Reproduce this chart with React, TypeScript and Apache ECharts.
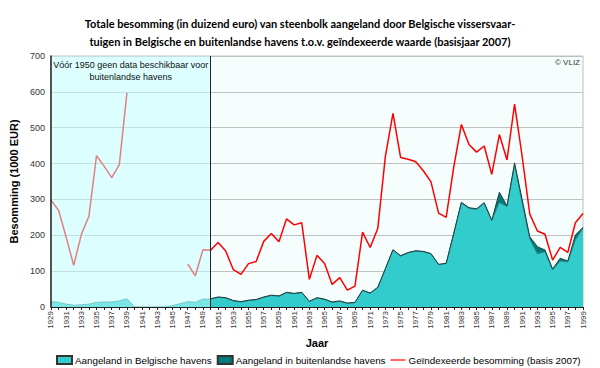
import React, { useEffect, useRef } from "react";
import * as echarts from "echarts";

const years = [
  "1929","1930","1931","1932","1933","1934","1935","1936","1937","1938",
  "1939","1940","1941","1942","1943","1944","1945","1946","1947","1948",
  "1949","1950","1951","1952","1953","1954","1955","1956","1957","1958",
  "1959","1960","1961","1962","1963","1964","1965","1966","1967","1968",
  "1969","1970","1971","1972","1973","1974","1975","1976","1977","1978",
  "1979","1980","1981","1982","1983","1984","1985","1986","1987","1988",
  "1989","1990","1991","1992","1993","1994","1995","1996","1997","1998",
  "1999",
];

const belgianHarbours = [
  15, 13, 8, 5, 6, 8, 13, 14, 14, 17,
  23, 0, 0, 0, 0, 0, 4, 9, 15, 13,
  22, 22, 27, 25, 17, 14, 18, 20, 27, 32,
  30, 40, 37, 40, 15, 25, 21, 13, 16, 10,
  12, 46, 38, 54, 106, 159, 142, 151, 156, 154,
  148, 118, 121, 205, 290, 275, 272, 289, 241, 291,
  280, 396, 289, 189, 148, 154, 103, 128, 126, 187,
  219,
];

const foreignHarbours = [
  null, null, null, null, null, null, null, null, null, null,
  null, null, null, null, null, null, null, null, null, null,
  null, 1, 1, 1, 1, 1, 1, 1, 1, 1,
  1, 1, 1, 1, 1, 1, 1, 1, 1, 1,
  1, 1, 1, 1, 1, 1, 1, 1, 1, 1,
  1, 1, 1, 1, 2, 2, 2, 2, 1, 29,
  2, 6, 10, 7, 20, 5, 3, 8, 2, 14,
  3,
];

const indexedValue = [
  298, 270, 195, 116, 202, 253, 422, 393, 361, 397,
  597, null, null, null, null, null, null, null, 120, 87,
  160, 158, 180, 156, 104, 91, 121, 127, 183, 205,
  182, 246, 229, 235, 77, 144, 121, 63, 82, 47,
  58, 209, 166, 219, 420, 540, 417, 412, 405, 380,
  349, 262, 250, 391, 509, 453, 432, 449, 370, 481,
  410, 566, 419, 259, 212, 203, 131, 166, 152, 235,
  261,
];

const yTicks = { min: 0, max: 700, interval: 100 };

const FONT = "Liberation Sans, Arial, sans-serif";

export default function App() {
  const ref = useRef<HTMLDivElement>(null);

  useEffect(() => {
    document.body.style.margin = "0";
    if (!ref.current) return;
    const chart = echarts.init(ref.current, undefined, { renderer: "svg" });
    chart.setOption({
      animation: false,
      backgroundColor: "#ffffff",
      textStyle: { fontFamily: FONT },
      title: {
        text:
          "Totale besomming (in duizend euro) van steenbolk aangeland door Belgische vissersvaar-\ntuigen in Belgische en buitenlandse havens t.o.v. geïndexeerde waarde (basisjaar 2007)",
        left: "center",
        top: 9,
        textStyle: {
          fontFamily: "Lato, Liberation Sans, sans-serif",
          fontSize: 11,
          fontWeight: "bold",
          lineHeight: 18,
          color: "#000",
        },
      },
      graphic: [
        {
          type: "text",
          right: 20,
          top: 58,
          style: { text: "© VLIZ", fontSize: 8, fill: "#333", fontFamily: FONT },
          z: 20,
        },
      ],
      legend: {
        top: 355,
        left: 56,
        width: 544,
        padding: 0,
        itemWidth: 15,
        itemHeight: 8,
        itemGap: 5,
        textStyle: { fontSize: 9.8, color: "#000", fontFamily: FONT, padding: [0, 0, 0, -2] },
        data: [
          { name: "Aangeland in Belgische havens", icon: "rect" },
          { name: "Aangeland in buitenlandse havens", icon: "rect" },
          {
            name: "Geïndexeerde besomming (basis 2007)",
            icon: "path://M0,0 L20,0 L20,1.6 L0,1.6 Z",
            itemStyle: { color: "#ff0000", borderWidth: 0 },
          },
        ],
      },
      grid: {
        left: 50,
        right: 17,
        top: 56,
        bottom: 61,
        show: true,
        backgroundColor: "#f5fdfd",
        borderColor: "#c0c0c0",
        borderWidth: 1,
      },
      xAxis: {
        type: "category",
        data: years,
        boundaryGap: false,
        z: 10,
        name: "Jaar",
        nameLocation: "middle",
        nameGap: 30,
        nameTextStyle: { fontSize: 11, fontWeight: "bold", color: "#000", fontFamily: FONT },
        axisLine: { show: true, lineStyle: { color: "#222", width: 1 } },
        axisTick: { show: true, interval: 0, length: 3, lineStyle: { color: "#222" } },
        axisLabel: {
          interval: 1,
          rotate: 90,
          fontSize: 8,
          color: "#333",
          margin: 4,
          fontFamily: FONT,
        },
        splitLine: { show: false },
      },
      yAxis: [
        {
          type: "value",
          min: yTicks.min,
          max: yTicks.max,
          interval: yTicks.interval,
          name: "Besomming (1000 EUR)",
          nameLocation: "middle",
          nameGap: 20,
          nameTextStyle: { fontSize: 11, fontWeight: "bold", color: "#000", fontFamily: FONT },
          axisLine: { show: false },
          axisTick: { show: false },
          axisLabel: { fontSize: 9, color: "#333", margin: 6, fontFamily: FONT },
          splitLine: { show: true, lineStyle: { color: "#c0c0c0", width: 1 } },
        },
        {
          type: "value",
          min: yTicks.min,
          max: yTicks.max,
          interval: yTicks.interval,
          position: "left",
          z: 10,
          axisLine: { show: true, lineStyle: { color: "#222", width: 1.5 } },
          axisTick: { show: false },
          axisLabel: { show: false },
          splitLine: { show: false },
        },
      ],
      series: [
        {
          name: "Aangeland in Belgische havens",
          type: "line",
          stack: "total",
          data: belgianHarbours,
          symbol: "none",
          z: 2,
          itemStyle: { color: "#33cccc", borderColor: "#333", borderWidth: 0.5 },
          lineStyle: { color: "#2a8d8d", width: 1 },
          areaStyle: { color: "#33cccc", opacity: 1 },
        },
        {
          name: "Aangeland in buitenlandse havens",
          type: "line",
          stack: "total",
          data: foreignHarbours,
          symbol: "none",
          z: 2,
          itemStyle: { color: "#007a7a", borderColor: "#333", borderWidth: 0.5 },
          lineStyle: { color: "#1d3f3f", width: 1 },
          areaStyle: { color: "#007a7a", opacity: 1 },
        },
        {
          name: "Geïndexeerde besomming (basis 2007)",
          type: "line",
          data: indexedValue,
          symbol: "none",
          connectNulls: false,
          z: 3,
          itemStyle: { color: "#ff0000" },
          lineStyle: { color: "#ff0000", width: 1.5 },
        },
        {
          name: "overlay",
          type: "line",
          data: [],
          z: 5,
          silent: true,
          markArea: {
            silent: true,
            z: 8,
            itemStyle: { color: "rgba(195,255,255,0.5)", borderWidth: 0 },
            label: {
              show: true,
              position: "insideTop",
              distance: 3,
              formatter: "Vóór 1950 geen data beschikbaar voor\nbuitenlandse havens",
              fontSize: 9,
              lineHeight: 12,
              color: "#111",
              fontFamily: FONT,
            },
            data: [[{ xAxis: "1929" }, { xAxis: "1950" }]],
          },
          markLine: {
            silent: true,
            z: 9,
            symbol: "none",
            label: { show: false },
            lineStyle: { color: "#222", width: 1, type: "solid" },
            data: [{ xAxis: "1950" }],
          },
        },
      ],
    });
    return () => chart.dispose();
  }, []);

  return <div ref={ref} style={{ width: 600, height: 368 }} />;
}
